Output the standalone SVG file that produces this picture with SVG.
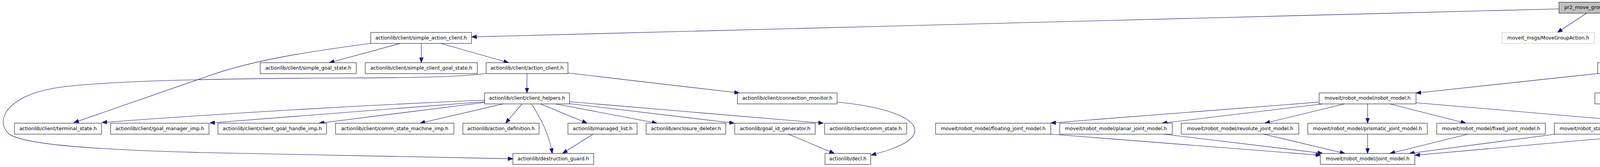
<svg xmlns="http://www.w3.org/2000/svg" width="5362" height="427" viewBox="0 0 5362 427">
<style>
.n rect{fill:#fff;stroke:#000;stroke-width:1}
.n text{font-family:"DejaVu Sans",sans-serif;font-size:12.5px;text-anchor:middle;fill:#000}
#n_pr2 rect{fill:#bfbfbf}
#n_mga rect{stroke:#bfbfbf}
.e path{fill:none;stroke:#191970;stroke-width:1.1;marker-end:url(#ah)}
</style>
<defs>
<marker id="ah" markerUnits="userSpaceOnUse" markerWidth="13" markerHeight="10" viewBox="0 0 13 10" refX="13" refY="5" orient="auto">
<path d="M0,0 L13,5 L0,10 z" fill="#191970" stroke="#191970" stroke-width="1"/>
</marker>
</defs>
<rect width="5362" height="427" fill="#fff"/>
<g id="connectors" class="e">
<path d="M3991,22.7 L1207.5,94.3"/>
<path d="M4061,34 L3987,83"/>
<path d="M4108,34 L4185,83"/>
<path d="M4168,34 L4457,83"/>
<path d="M1025,111 L843,160.3"/>
<path d="M1078.6,111 L1078.6,160.3"/>
<path d="M1128.5,111 L1302,160.3"/>
<path d="M949,111 C820,128 660,150 540,192 L189,313.5"/>
<path d="M1349,188.7 L1349,237.7"/>
<path d="M1454,186.7 L1893,237.7"/>
<path d="M1243,187.7 C1180,198 1000,199 880,199.5 C600,200.5 250,205 132,226.7 C30,245 -15,300 20,340 C50,370 250,383 515,390 L1313.4,406"/>
<path d="M1240.5,256 Q750,277 261,313.3"/>
<path d="M1240.5,260 L537,314.5"/>
<path d="M1240.5,262 L817,315"/>
<path d="M1287.6,265.7 L1075,315"/>
<path d="M1336.4,265.7 L1294.4,315"/>
<path d="M1361,265.7 C1385,305 1405,340 1413.8,392.3"/>
<path d="M1384,265.7 L1503,315"/>
<path d="M1422.5,265.7 L1682,315"/>
<path d="M1458,265 L1880,315"/>
<path d="M1458,260 L2108,315"/>
<path d="M2143,261 C2260,272 2342,300 2342,333 C2342,362 2290,381 2230,396.7"/>
<path d="M2018.3,343 L2136,392.3"/>
<path d="M1518.3,343 L1440,392.3"/>
<path d="M4207.7,111 L4207.7,160.3"/>
<path d="M4541,111 L4541,160.3"/>
<path d="M4611.7,111 L4857,160.3"/>
<path d="M4925.5,188.7 L4919,237.7"/>
<path d="M4987.7,188.7 L5192,237.7"/>
<path d="M4090.3,188 L3625,238"/>
<path d="M4210,188.7 L4215.5,237.7"/>
<path d="M4265,188.7 L4465,237.7"/>
<path d="M4195,265.7 L4118.3,315"/>
<path d="M4246.7,265.7 L4341.7,315"/>
<path d="M4296.7,265.7 L4572,315"/>
<path d="M4547.2,265.7 L4625.8,315"/>
<path d="M3377,261 L2690,314.5"/>
<path d="M3385,265.7 L2975,315"/>
<path d="M3441.7,265.7 L3238,315"/>
<path d="M3501,265.7 L3501,315"/>
<path d="M3558.3,265.7 L3752.5,315"/>
<path d="M3625,262.7 L4230,314.5"/>
<path d="M2690,343 L3381,397"/>
<path d="M2979,343 L3386,392"/>
<path d="M3235,343 L3443,392.3"/>
<path d="M3501,343 L3501,392.3"/>
<path d="M3758.2,343 L3558.3,392.3"/>
<path d="M3982,343 L3608,392.3"/>
<path d="M4230,343 L3622,397"/>
<path d="M4370,343 L4363.3,392.3"/>
<path d="M4425,343 L4599.4,392.3"/>
<path d="M4650.3,343 L4650.3,392.3"/>
</g>
<g id="n_pr2" class="n"><rect x="3991" y="5.7" width="189" height="28"/><text x="4085.5" y="23.2">pr2_move_group_test.cpp</text></g>
<g id="n_sac" class="n"><rect x="949" y="83" width="258" height="28"/><text x="1078" y="100.5">actionlib/client/simple_action_client.h</text></g>
<g id="n_mga" class="n"><rect x="3845" y="83" width="237" height="28"/><text x="3963.5" y="100.5">moveit_msgs/MoveGroupAction.h</text></g>
<g id="n_kcu" class="n"><rect x="4105" y="83" width="205" height="28"/><text x="4207.5" y="100.5">kinematic_constraints/utils.h</text></g>
<g id="n_psm" class="n"><rect x="4366" y="83" width="350" height="28"/><text x="4541" y="100.5">planning_scene_monitor/planning_scene_monitor.h</text></g>
<g id="n_sgs" class="n"><rect x="666" y="160.3" width="246" height="28"/><text x="789" y="177.8">actionlib/client/simple_goal_state.h</text></g>
<g id="n_scgs" class="n"><rect x="935" y="160.3" width="287" height="28"/><text x="1078.5" y="177.8">actionlib/client/simple_client_goal_state.h</text></g>
<g id="n_ac" class="n"><rect x="1244.5" y="160.3" width="209.5" height="28"/><text x="1349.2" y="177.8">actionlib/client/action_client.h</text></g>
<g id="n_rs" class="n"><rect x="4090" y="160.3" width="235" height="28"/><text x="4207.5" y="177.8">moveit/robot_state/robot_state.h</text></g>
<g id="n_csm" class="n"><rect x="4349" y="160.3" width="384" height="28"/><text x="4541" y="177.8">moveit/planning_scene_monitor/current_state_monitor.h</text></g>
<g id="n_rml" class="n"><rect x="4757" y="160.3" width="342" height="28"/><text x="4928" y="177.8">moveit/robot_model_loader/robot_model_loader.h</text></g>
<g id="n_ch" class="n"><rect x="1240.5" y="237.7" width="217.5" height="28"/><text x="1349.2" y="255.2">actionlib/client/client_helpers.h</text></g>
<g id="n_cm" class="n"><rect x="1888" y="237.7" width="255" height="28"/><text x="2015.5" y="255.2">actionlib/client/connection_monitor.h</text></g>
<g id="n_rm" class="n"><rect x="3377" y="237.7" width="248" height="28"/><text x="3501" y="255.2">moveit/robot_model/robot_model.h</text></g>
<g id="n_jsg" class="n"><rect x="4083" y="237.7" width="271" height="28"/><text x="4218.5" y="255.2">moveit/robot_state/joint_state_group.h</text></g>
<g id="n_ab" class="n"><rect x="4397" y="237.7" width="253" height="28"/><text x="4523.5" y="255.2">moveit/robot_state/attached_body.h</text></g>
<g id="n_kpl" class="n"><rect x="4713.5" y="237.7" width="406.5" height="28"/><text x="4916.7" y="255.2">moveit/kinematics_plugin_loader/kinematics_plugin_loader.h</text></g>
<g id="n_rdf" class="n"><rect x="5144" y="237.7" width="213" height="28"/><text x="5250.5" y="255.2">moveit/rdf_loader/rdf_loader.h</text></g>
<g id="n_ts" class="n"><rect x="37" y="315" width="223" height="28"/><text x="148.5" y="332.5">actionlib/client/terminal_state.h</text></g>
<g id="n_gmi" class="n"><rect x="283" y="315" width="252" height="28"/><text x="409" y="332.5">actionlib/client/goal_manager_imp.h</text></g>
<g id="n_cghi" class="n"><rect x="558" y="315" width="278" height="28"/><text x="697" y="332.5">actionlib/client/client_goal_handle_imp.h</text></g>
<g id="n_csmi" class="n"><rect x="859" y="315" width="303" height="28"/><text x="1010.5" y="332.5">actionlib/client/comm_state_machine_imp.h</text></g>
<g id="n_ad" class="n"><rect x="1185" y="315" width="195" height="28"/><text x="1282.5" y="332.5">actionlib/action_definition.h</text></g>
<g id="n_ml" class="n"><rect x="1454" y="315" width="177" height="28"/><text x="1542.5" y="332.5">actionlib/managed_list.h</text></g>
<g id="n_ed" class="n"><rect x="1654" y="315" width="204" height="28"/><text x="1756" y="332.5">actionlib/enclosure_deleter.h</text></g>
<g id="n_gig" class="n"><rect x="1881" y="315" width="206" height="28"/><text x="1984" y="332.5">actionlib/goal_id_generator.h</text></g>
<g id="n_cs" class="n"><rect x="2111" y="315" width="210" height="28"/><text x="2216" y="332.5">actionlib/client/comm_state.h</text></g>
<g id="n_fjm" class="n"><rect x="2395" y="315" width="295" height="28"/><text x="2542.5" y="332.5">moveit/robot_model/floating_joint_model.h</text></g>
<g id="n_pjm" class="n"><rect x="2713" y="315" width="288" height="28"/><text x="2857" y="332.5">moveit/robot_model/planar_joint_model.h</text></g>
<g id="n_rjm" class="n"><rect x="3024" y="315" width="301" height="28"/><text x="3174.5" y="332.5">moveit/robot_model/revolute_joint_model.h</text></g>
<g id="n_prjm" class="n"><rect x="3348" y="315" width="306" height="28"/><text x="3501" y="332.5">moveit/robot_model/prismatic_joint_model.h</text></g>
<g id="n_fxjm" class="n"><rect x="3678" y="315" width="278" height="28"/><text x="3817" y="332.5">moveit/robot_model/fixed_joint_model.h</text></g>
<g id="n_js" class="n"><rect x="3979" y="315" width="227" height="28"/><text x="4092.5" y="332.5">moveit/robot_state/joint_state.h</text></g>
<g id="n_jmg" class="n"><rect x="4230" y="315" width="286" height="28"/><text x="4373" y="332.5">moveit/robot_model/joint_model_group.h</text></g>
<g id="n_ls" class="n"><rect x="4540" y="315" width="221" height="28"/><text x="4650.5" y="332.5">moveit/robot_state/link_state.h</text></g>
<g id="n_dg" class="n"><rect x="1313" y="392.3" width="207" height="28"/><text x="1416.5" y="409.8">actionlib/destruction_guard.h</text></g>
<g id="n_decl" class="n"><rect x="2112" y="392.3" width="117" height="28"/><text x="2170.5" y="409.8">actionlib/decl.h</text></g>
<g id="n_jm" class="n"><rect x="3380" y="392.3" width="242" height="28"/><text x="3501" y="409.8">moveit/robot_model/joint_model.h</text></g>
<g id="n_kb" class="n"><rect x="4210" y="392.3" width="299" height="28"/><text x="4359.5" y="409.8">moveit/kinematics_base/kinematics_base.h</text></g>
<g id="n_lm" class="n"><rect x="4533" y="392.3" width="235" height="28"/><text x="4650.5" y="409.8">moveit/robot_model/link_model.h</text></g>
</svg>
